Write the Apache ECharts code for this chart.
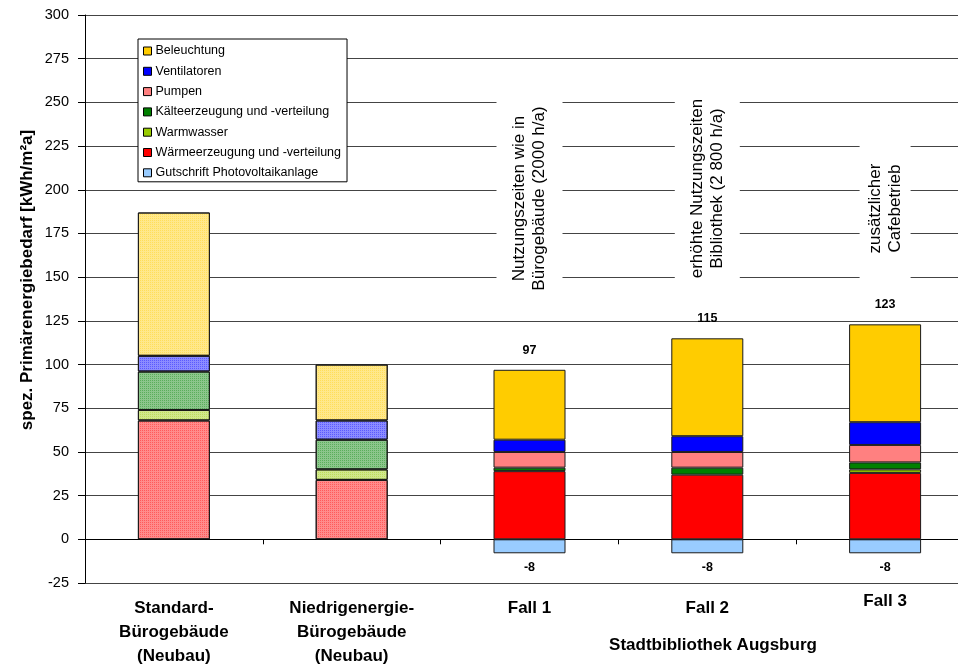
<!DOCTYPE html>
<html>
<head>
<meta charset="utf-8">
<script src="https://cdn.jsdelivr.net/npm/echarts@6/dist/echarts.min.js"></script>
<style>
  html, body { margin: 0; padding: 0; background: #fff; }
  #chart { width: 958px; height: 666px; }
</style>
</head>
<body>
<div id="chart"></div>
<script>
// Primärenergiebedarf nach Verbrauchern (kWh/m²a)
const categories = [
  'Standard-\nBürogebäude\n(Neubau)',
  'Niedrigenergie-\nBürogebäude\n(Neubau)',
  'Fall 1',
  'Fall 2',
  'Fall 3'
];
const waermeerzeugung = [68, 34, 39, 37, 38];
const warmwasser      = [6, 6, null, null, 2];
const kaelte          = [22, 17, 2, 4, 4];
const pumpen          = [null, null, 9, 9, 10];
const ventilatoren    = [9, 11, 7, 9, 13];
const beleuchtung     = [82, 32, 40, 56, 56];
const gutschriftPV    = [null, null, -8, -8, -8];
// reference buildings (first two) are drawn with a lighter, dotted fill
const isReference     = [true, true, false, false, false];
const showTotal       = [false, false, true, true, true];
const yTicks = { min: -25, max: 300, step: 25 };

const annotations = [
  { cat: 2, text: 'Nutzungszeiten wie in\nBürogebäude (2000 h/a)' },
  { cat: 3, text: 'erhöhte Nutzungszeiten\nBibliothek (2 800 h/a)' },
  { cat: 4, text: 'zusätzlicher\nCafebetrieb' }
];
// placement of the white text boxes (centre value, box length, padding)
const annotationBoxes = [
  { y: 195, len: 213, pad: 13, dx: 0 },
  { y: 200.7, len: 193, pad: 12.5, dx: 0 },
  { y: 191, len: 160, pad: 5.5, dx: -3 }
];

const FONT = 'Liberation Sans, Arial, sans-serif';

function mixWhite(hex, t) {
  const n = parseInt(hex.slice(1), 16);
  const r = (n >> 16) & 255, g = (n >> 8) & 255, b = n & 255;
  const m = v => Math.round(v + (255 - v) * t);
  return 'rgb(' + m(r) + ',' + m(g) + ',' + m(b) + ')';
}
function withAlpha(hex, a) {
  const n = parseInt(hex.slice(1), 16);
  return 'rgba(' + ((n >> 16) & 255) + ',' + ((n >> 8) & 255) + ',' + (n & 255) + ',' + a + ')';
}

const layers = [
  { name: 'Wärmeerzeugung und -verteilung', color: '#FF0000', data: waermeerzeugung },
  { name: 'Warmwasser', color: '#99CC00', data: warmwasser },
  { name: 'Kälteerzeugung und -verteilung', color: '#008000', data: kaelte },
  { name: 'Pumpen', color: '#FF8080', data: pumpen },
  { name: 'Ventilatoren', color: '#0000FF', data: ventilatoren },
  { name: 'Beleuchtung', color: '#FFCC00', data: beleuchtung },
  { name: 'Gutschrift Photovoltaikanlage', color: '#99CCFF', data: gutschriftPV }
];

const legendOrder = [
  'Beleuchtung', 'Ventilatoren', 'Pumpen', 'Kälteerzeugung und -verteilung',
  'Warmwasser', 'Wärmeerzeugung und -verteilung', 'Gutschrift Photovoltaikanlage'
];

const barSeries = layers.map(function (l) {
  const isPV = l.name === 'Gutschrift Photovoltaikanlage';
  return {
    name: l.name,
    type: 'bar',
    stack: 'energie',
    barWidth: 72,
    itemStyle: { color: l.color, borderColor: '#1a1a1a', borderWidth: 1 },
    label: isPV ? {
      show: true, position: 'bottom', distance: 8,
      formatter: '{c}', fontFamily: FONT, fontSize: 12.5, fontWeight: 'bold', color: '#000'
    } : { show: false },
    data: l.data.map(function (v, i) {
      if (v === null) return '-';
      if (!isReference[i]) return v;
      return {
        value: v,
        itemStyle: {
          color: mixWhite(l.color, 0.55),
          decal: {
            symbol: 'rect', symbolSize: 1,
            dashArrayX: [1, 1], dashArrayY: [1, 1],
            color: withAlpha(l.color, 0.35)
          }
        }
      };
    })
  };
});

// stack totals above the library cases
const totals = categories.map(function (_, i) {
  let s = 0;
  layers.forEach(function (l) { const v = l.data[i]; if (v !== null && v > 0) s += v; });
  return showTotal[i] ? s : '-';
});

const totalSeries = {
  name: 'Summe',
  type: 'scatter',
  symbolSize: 0,
  silent: true,
  itemStyle: { opacity: 1 },
  label: {
    show: true, position: 'top', distance: 13, formatter: '{@[1]}',
    fontFamily: FONT, fontSize: 12.5, fontWeight: 'bold', color: '#000', opacity: 1
  },
  data: totals.map(function (t, i) { return t === '-' ? null : [i, t]; }).filter(Boolean),
  z: 5
};

const noteSeries = {
  name: 'Hinweise',
  type: 'scatter',
  symbolSize: 0,
  silent: true,
  itemStyle: { opacity: 1 },
  z: 6,
  data: annotations.map(function (a, k) {
    const b = annotationBoxes[k];
    return {
      value: [a.cat, b.y],
      label: {
        show: true,
        position: 'inside',
        rotate: 90,
        formatter: a.text,
        width: b.len,
        align: 'center',
        verticalAlign: 'middle',
        padding: [b.pad, 0],
        lineHeight: 20,
        backgroundColor: '#fff',
        fontFamily: FONT,
        fontSize: 17,
        color: '#000',
        opacity: 1,
        offset: [b.dx, 0]
      }
    };
  })
};

const chart = echarts.init(document.getElementById('chart'), null, { renderer: 'canvas' });

chart.setOption({
  animation: false,
  backgroundColor: '#fff',
  textStyle: { fontFamily: FONT },
  grid: { left: 85, top: 15, width: 889, height: 568, containLabel: false, outerBoundsMode: 'none' },
  legend: {
    data: legendOrder,
    orient: 'vertical',
    left: 138,
    top: 39,
    padding: [5, 6, 2, 5],
    itemWidth: 8,
    itemHeight: 8,
    itemGap: 6.3,
    icon: 'rect',
    backgroundColor: '#fff',
    borderColor: '#000',
    borderWidth: 1,
    itemStyle: { borderColor: '#000', borderWidth: 1 },
    textStyle: { fontFamily: FONT, fontSize: 12.5, color: '#000', lineHeight: 14, padding: [0, 0, 0, -1] },
    selectedMode: false
  },
  xAxis: {
    type: 'category',
    data: categories,
    axisLine: { onZero: true, lineStyle: { color: '#000', width: 1 } },
    axisTick: { show: true, length: 5, lineStyle: { color: '#000' } },
    splitLine: { show: false },
    axisLabel: {
      margin: 13,
      interval: 0,
      fontFamily: FONT,
      fontSize: 17,
      fontWeight: 'bold',
      color: '#000',
      lineHeight: 24,
      formatter: function (v) { return v === 'Fall 3' ? '{up|' + v + '}' : v; },
      rich: { up: { fontFamily: FONT, fontSize: 17, fontWeight: 'bold', color: '#000', lineHeight: 11 } }
    }
  },
  yAxis: {
    type: 'value',
    min: yTicks.min,
    max: yTicks.max,
    interval: yTicks.step,
    axisLine: { show: true, lineStyle: { color: '#000', width: 1 } },
    axisTick: { show: true, length: 7, lineStyle: { color: '#000' } },
    splitLine: { show: true, lineStyle: { color: '#444', width: 1 } },
    axisLabel: { margin: 16, fontFamily: FONT, fontSize: 14.5, color: '#000' }
  },
  graphic: [
    {
      type: 'text',
      x: 27, y: 280,
      rotation: Math.PI / 2,
      style: {
        text: 'spez. Primärenergiebedarf [kWh/m²a]',
        font: 'bold 17px ' + FONT,
        fill: '#000',
        align: 'center',
        verticalAlign: 'middle'
      }
    },
    {
      type: 'text',
      x: 713, y: 645,
      style: {
        text: 'Stadtbibliothek Augsburg',
        font: 'bold 17px ' + FONT,
        fill: '#000',
        align: 'center',
        verticalAlign: 'middle'
      }
    }
  ],
  series: barSeries.concat([totalSeries, noteSeries])
});
</script>
</body>
</html>
